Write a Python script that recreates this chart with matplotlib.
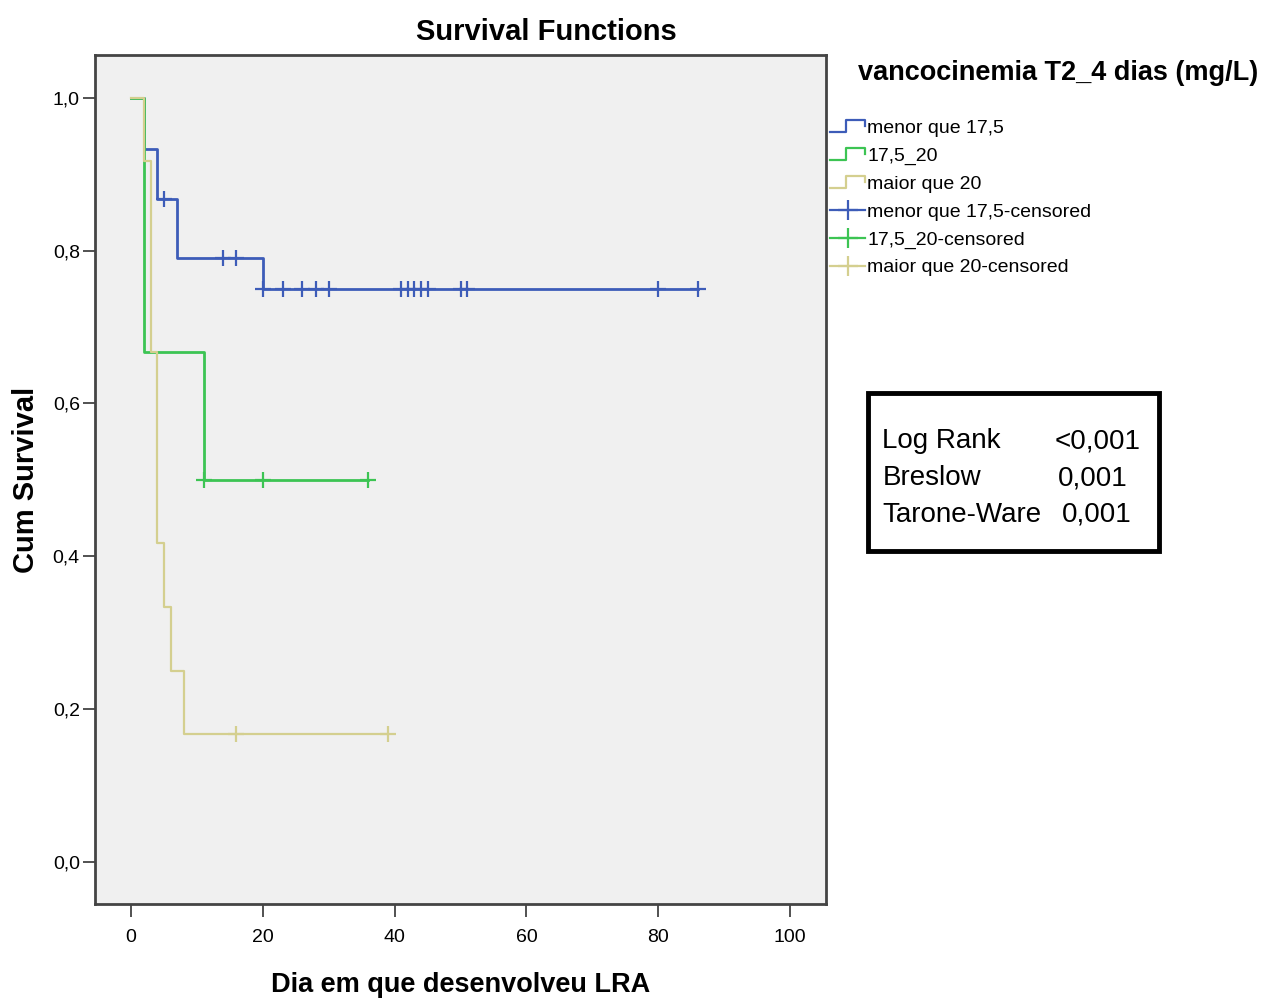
import numpy as np
import matplotlib
matplotlib.use("Agg")
import matplotlib.pyplot as plt
from matplotlib.lines import Line2D
from matplotlib.legend_handler import HandlerBase
from matplotlib.patches import Rectangle

plt.rcParams['font.family'] = ['Liberation Sans', 'DejaVu Sans']

# Kaplan-Meier steps: event times and survival after each event
blue_t = [0, 2, 4, 7, 20]
blue_s = [1.0, 0.933, 0.867, 0.79, 0.75]
blue_end = 86
blue_cens = [5, 14, 16, 20, 23, 26, 28, 30, 41, 42, 43, 44, 45, 50, 51, 80, 86]

green_t = [0, 2, 11]
green_s = [1.0, 0.667, 0.5]
green_end = 36
green_cens = [11, 20, 36]

yellow_t = [0, 2, 3, 4, 5, 6, 8]
yellow_s = [1.0, 0.917, 0.667, 0.417, 0.333, 0.25, 0.167]
yellow_end = 39
yellow_cens = [16, 39]

groups = ["menor que 17,5", "17,5_20", "maior que 20"]
colors = ["#3d5cb8", "#3cc453", "#d4cf8f"]
widths = [2.0, 2.0, 1.6]

tests = ["Log Rank", "Breslow", "Tarone-Ware"]
pvals = ["<0,001", "0,001", "0,001"]

fig = plt.figure(figsize=(12.64, 9.98), dpi=100)
ax = fig.add_axes([0.0752, 0.0942, 0.5783, 0.8507])
ax.set_facecolor("#f0f0f0")

series = [(blue_t, blue_s, blue_end, blue_cens),
          (green_t, green_s, green_end, green_cens),
          (yellow_t, yellow_s, yellow_end, yellow_cens)]

for (t, s, end, cens), c, lw in zip(series, colors, widths):
    tt = list(t) + [end]
    ss = list(s) + [s[-1]]
    ax.step(tt, ss, where="post", color=c, lw=lw)
    idx = np.searchsorted(t, cens, side="right") - 1
    ax.plot(cens, np.array(s)[idx], ls="none", marker="+", ms=11, mew=1.6, color=c)

ax.set_xlim(-5.46, 105.46)
ax.set_ylim(-0.055, 1.056)
ax.set_xticks(range(0, 101, 20))
ax.set_yticks(np.arange(0, 1.01, 0.2))
ax.set_yticklabels([f"{v:.1f}".replace(".", ",") for v in np.arange(0, 1.01, 0.2)])
ax.tick_params(length=9, width=1.2, labelsize=14, color="#333333")
ax.tick_params(axis="x", pad=9)
ax.tick_params(axis="y", pad=2)
for sp in ax.spines.values():
    sp.set_linewidth(2)
    sp.set_color("#444444")

ax.set_xlabel("Dia em que desenvolveu LRA", fontsize=19.5, fontweight="bold", labelpad=19)
ax.set_ylabel("Cum Survival", fontsize=21, fontweight="bold", labelpad=9)
fig.text(0.432, 0.968, "Survival Functions", fontsize=21, fontweight="bold",
         ha="center", va="center")


class StepHandler(HandlerBase):
    def create_artists(self, legend, orig_handle, xdescent, ydescent,
                       width, height, fontsize, trans):
        x0, y0 = -xdescent, -ydescent
        xs = [x0, x0 + 0.45 * width, x0 + 0.45 * width, x0 + width, x0 + width]
        ys = [y0 + 0.1 * height, y0 + 0.1 * height, y0 + 0.95 * height,
              y0 + 0.95 * height, y0 + 0.55 * height]
        ln = Line2D(xs, ys, color=orig_handle.get_color(),
                    lw=orig_handle.get_linewidth(), transform=trans)
        return [ln]


step_handles = [Line2D([], [], color=c, lw=1.6) for c in colors]
cens_handles = [Line2D([], [], color=c, lw=1.6, marker="+", ms=14, mew=1.6) for c in colors]
labels = groups + [g + "-censored" for g in groups]
hmap = {h: StepHandler() for h in step_handles}
fig.legend(step_handles + cens_handles, labels, handler_map=hmap,
           loc="upper left", bbox_to_anchor=(0.657, 0.880), frameon=False,
           fontsize=14, handlelength=1.8, handletextpad=0.1, labelspacing=0.52,
           borderaxespad=0, borderpad=0)

fig.text(0.679, 0.927, "vancocinemia T2_4 dias (mg/L)", fontsize=19.5,
         fontweight="bold", va="center", ha="left")

# statistics box
fig.patches.append(Rectangle((0.6867, 0.448), 0.2302, 0.158, transform=fig.transFigure,
                             fill=False, lw=3.5, ec="black"))
for i, (name, p) in enumerate(zip(tests, pvals)):
    yy = 0.558 - i * 0.037
    fig.text(0.698, yy, name, fontsize=20, va="center", ha="left")
    fig.text([0.902, 0.8925, 0.8956][i], yy, p, fontsize=20, va="center", ha="right")

fig.savefig("out.png", dpi=100)
